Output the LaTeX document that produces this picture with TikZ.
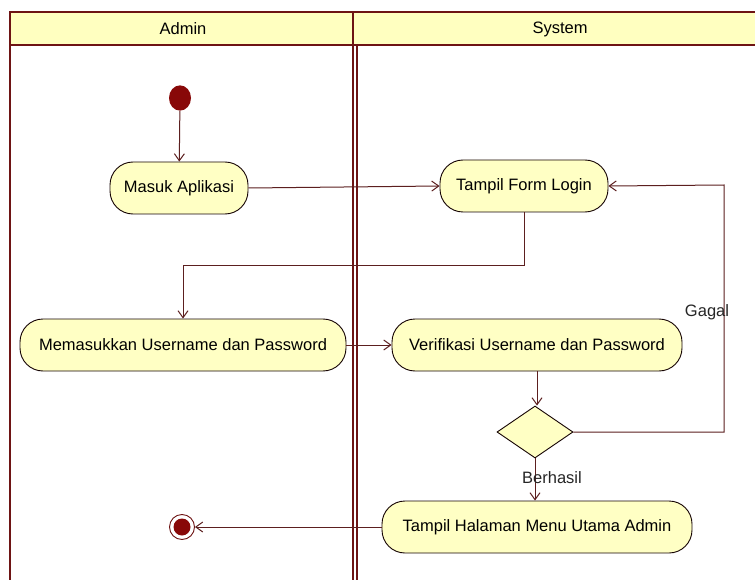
\documentclass[tikz,border=0pt]{standalone}
\usepackage{fontspec}
\setmainfont{Liberation Sans}
\usetikzlibrary{arrows.meta,shapes.geometric}
\definecolor{lanered}{HTML}{6E1414}
\definecolor{actfill}{HTML}{FFFFC4}
\definecolor{hdrfill}{HTML}{FFFFC0}
\definecolor{wire}{HTML}{5C1F1F}
\definecolor{dot}{HTML}{880808}
\tikzset{
  lane/.style={draw=lanered, line width=1.8pt},
  activity/.style={rectangle, rounded corners=23pt, draw=black!80!lanered, fill=actfill, line width=0.9pt,
    minimum height=52pt, inner sep=0pt, font=\fontsize{16.5}{20}\selectfont},
  decision/.style={diamond, draw=black!80!lanered, fill=actfill, line width=0.9pt,
    minimum width=76pt, minimum height=52pt, inner sep=0pt, aspect=1.5},
  flow/.style={draw=wire, line width=1pt, -{Straight Barb[length=7pt,width=10pt]}},
  guard/.style={font=\fontsize{16.5}{20}\selectfont, text=black!85}
}
\begin{document}
\begin{tikzpicture}[x=1pt,y=-1pt]
\useasboundingbox (0,0) rectangle (755,580);
\fill[white] (0,0) rectangle (755,580);

% swimlane frame and headers
\fill[hdrfill] (10,12) rectangle (755,45);
\draw[lane] (755,12) -- (10,12) -- (10,580);
\draw[lane] (10,45) -- (755,45);
\draw[lane] (353,12) -- (353,580);
\draw[lane] (357,45) -- (357,580);
\node[font=\fontsize{16.5}{20}\selectfont] (hadmin) at (183,29) {Admin};
\node[font=\fontsize{16.5}{20}\selectfont] (hsys) at (560,29) {System};

% activities
\node[circle, fill=dot, minimum width=22pt, minimum height=22pt, inner sep=0pt, yscale=1.15] (start) at (180,98) {};
\node[activity, minimum width=138pt] (masuk) at (179,188) {Masuk Aplikasi};
\node[activity, minimum width=168pt] (form) at (524,186) {Tampil Form Login};
\node[activity, minimum width=326pt] (input) at (183,345) {Memasukkan Username dan Password};
\node[activity, minimum width=290pt] (verif) at (537,345) {Verifikasi Username dan Password};
\node[decision] (cek) at (535,432) {};
\node[activity, minimum width=310pt] (menu) at (537,527) {Tampil Halaman Menu Utama Admin};
\node[circle, draw=lanered, line width=0.9pt, fill=white, minimum size=25pt, inner sep=0pt] (end) at (182,527) {};
\fill[dot] (end.center) circle (8.5pt);

% connectors
\coordinate (gagalA) at (724,432);
\coordinate (gagalB) at (724,185);
\draw[flow] (start) -- (masuk);
\draw[flow] (masuk.east) -- (form.west);
\draw[flow] (form.south) -- ++(0,53) -| (input.north);
\draw[flow] (input.east) -- (verif.west);
\draw[flow] (verif.south) -- (verif.south |- cek.north);
\draw[flow] (cek.east) -- (gagalA) -- (gagalB) -- (form.east);
\draw[flow] (cek.south) -- (cek.south |- menu.north);
\draw[flow] (menu.west) -- (end.east);

% guards
\node[guard] (lblgagal) at (707,312) {Gagal};
\node[guard] (lblberhasil) at (552,478) {Berhasil};
\end{tikzpicture}
\end{document}
